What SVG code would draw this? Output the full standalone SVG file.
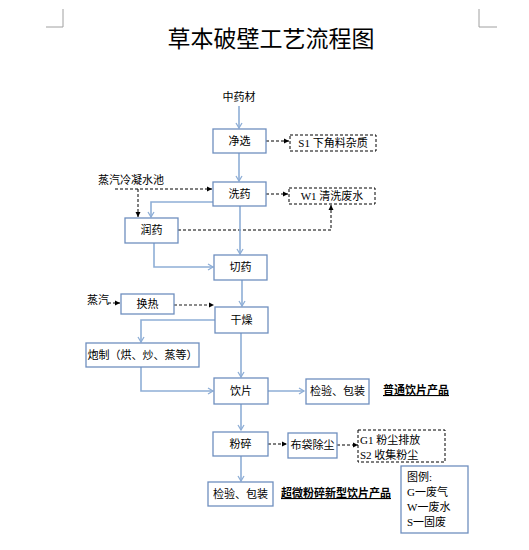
<svg xmlns="http://www.w3.org/2000/svg" width="529" height="550" viewBox="0 0 529 550">
<defs>
<marker id="ab" markerWidth="8" markerHeight="8" refX="6" refY="4" orient="auto" markerUnits="userSpaceOnUse">
<path d="M1,1 L6,4 L1,7" fill="none" stroke="#8eaed6" stroke-width="1.3"/>
</marker>
<marker id="ak" markerWidth="7" markerHeight="7" refX="5" refY="3.5" orient="auto" markerUnits="userSpaceOnUse">
<path d="M0,1 L5,3.5 L0,6 Z" fill="#000"/>
</marker>
<style>
.bx{fill:#fff;stroke:#6f8fbf;stroke-width:1.3}
.db{fill:#fff;stroke:#000;stroke-width:1;stroke-dasharray:3,2}
.t{font-family:"Noto Sans CJK SC","Liberation Sans",sans-serif;font-size:11px;fill:#000}
.s{font-family:"Liberation Serif","Noto Sans CJK SC",serif;font-size:11px;fill:#000}
.b{font-family:"Noto Sans CJK SC","Liberation Sans",sans-serif;font-size:11px;font-weight:bold;fill:#000;text-decoration:underline}
.bl{fill:none;stroke:#8eaed6;stroke-width:1.6}
.dl{fill:none;stroke:#000;stroke-width:1;stroke-dasharray:3,2}
</style>
</defs>
<rect width="529" height="550" fill="#fff"/>
<path d="M63,9 V27 H46" fill="none" stroke="#a0a0a0" stroke-width="1"/>
<path d="M479,9 V27 H497" fill="none" stroke="#a0a0a0" stroke-width="1"/>
<text x="271" y="47" text-anchor="middle" style="font-family:'Noto Sans CJK SC',sans-serif;font-size:23px;fill:#000">草本破壁工艺流程图</text>

<g id="connectors">
<line x1="239" y1="106" x2="239" y2="128" class="bl" marker-end="url(#ab)"/>
<line x1="239" y1="153" x2="239" y2="181" class="bl" marker-end="url(#ab)"/>
<line x1="266" y1="141" x2="289" y2="141" class="dl" marker-end="url(#ak)"/>
<line x1="115" y1="189" x2="212" y2="189" class="dl" marker-end="url(#ak)"/>
<line x1="138" y1="189" x2="138" y2="217" class="dl" marker-end="url(#ak)"/>
<line x1="266" y1="194" x2="288" y2="194" class="dl" marker-end="url(#ak)"/>
<path d="M213,202 H151 V217" class="bl" marker-end="url(#ab)"/>
<path d="M178,230 H331 V205" class="dl" marker-end="url(#ak)"/>
<line x1="240" y1="206" x2="240" y2="254" class="bl" marker-end="url(#ab)"/>
<path d="M154,243 V267 H213" class="bl" marker-end="url(#ab)"/>
<line x1="242" y1="280" x2="242" y2="306" class="bl" marker-end="url(#ab)"/>
<line x1="108" y1="303" x2="120" y2="303" class="dl" marker-end="url(#ak)"/>
<line x1="174" y1="305" x2="214" y2="305" stroke="#666" stroke-width="1.3" stroke-dasharray="3,2" marker-end="url(#ak)"/>
<path d="M215,320 H141 V342" class="bl" marker-end="url(#ab)"/>
<path d="M141,367 V391 H213" class="bl" marker-end="url(#ab)"/>
<line x1="241" y1="333" x2="241" y2="377" class="bl" marker-end="url(#ab)"/>
<line x1="268" y1="391" x2="304" y2="391" class="bl" marker-end="url(#ab)"/>
<line x1="241" y1="404" x2="241" y2="430" class="bl" marker-end="url(#ab)"/>
<line x1="268" y1="444" x2="287" y2="444" class="dl" marker-end="url(#ak)"/>
<line x1="337" y1="445" x2="358" y2="445" class="dl" marker-end="url(#ak)"/>
<line x1="241" y1="456" x2="241" y2="481" class="bl" marker-end="url(#ab)"/>
</g>

<g id="n-zhongyaocai"><text x="239" y="101" text-anchor="middle" class="t">中药材</text></g>
<g id="n-jingxuan"><rect x="213" y="129" width="53" height="24" class="bx"/><text x="239.5" y="145" text-anchor="middle" class="t">净选</text></g>
<g id="n-s1"><rect x="290" y="135" width="86" height="16" class="db"/><text x="333" y="147" text-anchor="middle" class="s">S1 下角料杂质</text></g>
<g id="n-zhengqi-pool"><text x="98" y="184" class="t">蒸汽冷凝水池</text></g>
<g id="n-xiyao"><rect x="213" y="182" width="53" height="24" class="bx"/><text x="239.5" y="198" text-anchor="middle" class="t">洗药</text></g>
<g id="n-w1"><rect x="289" y="188" width="86" height="16" class="db"/><text x="332" y="200" text-anchor="middle" class="s">W1 清洗废水</text></g>
<g id="n-runyao"><rect x="125" y="218" width="53" height="25" class="bx"/><text x="151.5" y="234" text-anchor="middle" class="t">润药</text></g>
<g id="n-qieyao"><rect x="214" y="255" width="53" height="25" class="bx"/><text x="240.5" y="271" text-anchor="middle" class="t">切药</text></g>
<g id="n-zhengqi"><text x="87" y="304" class="t">蒸汽</text></g>
<g id="n-huanre"><rect x="121" y="294" width="53" height="20" class="bx"/><text x="147.5" y="308" text-anchor="middle" class="t">换热</text></g>
<g id="n-ganzao"><rect x="215" y="307" width="53" height="26" class="bx"/><text x="241.5" y="324" text-anchor="middle" class="t">干燥</text></g>
<g id="n-paozhi"><rect x="86" y="343" width="113" height="24" class="bx"/><text x="142.5" y="359" text-anchor="middle" class="t">炮制（烘、炒、蒸等）</text></g>
<g id="n-yinpian"><rect x="214" y="378" width="54" height="26" class="bx"/><text x="241" y="395" text-anchor="middle" class="t">饮片</text></g>
<g id="n-jianyan1"><rect x="306" y="379" width="63" height="25" class="bx"/><text x="337.5" y="395" text-anchor="middle" class="t">检验、包装</text></g>
<g id="n-putong"><text x="383" y="394" class="b">普通饮片产品</text></g>
<g id="n-fensui"><rect x="213" y="432" width="55" height="24" class="bx"/><text x="240.5" y="448" text-anchor="middle" class="t">粉碎</text></g>
<g id="n-budai"><rect x="288" y="433" width="49" height="25" class="bx"/><text x="312.5" y="449" text-anchor="middle" class="t">布袋除尘</text></g>
<g id="n-g1s2"><rect x="358" y="430" width="87" height="32" class="db"/><text x="360" y="444" class="s">G1 粉尘排放</text><text x="360" y="459" class="s">S2 收集粉尘</text></g>
<g id="n-jianyan2"><rect x="208" y="482" width="65" height="24" class="bx"/><text x="240.5" y="498" text-anchor="middle" class="t">检验、包装</text></g>
<g id="n-chaowei"><text x="281" y="497" class="b">超微粉碎新型饮片产品</text></g>
<g id="n-legend"><rect x="401" y="466" width="67" height="67" class="bx"/>
<text x="407" y="481" class="s">图例:</text>
<text x="407" y="496" class="s">G一废气</text>
<text x="407" y="511" class="s">W一废水</text>
<text x="407" y="526" class="s">S一固废</text></g>
</svg>
